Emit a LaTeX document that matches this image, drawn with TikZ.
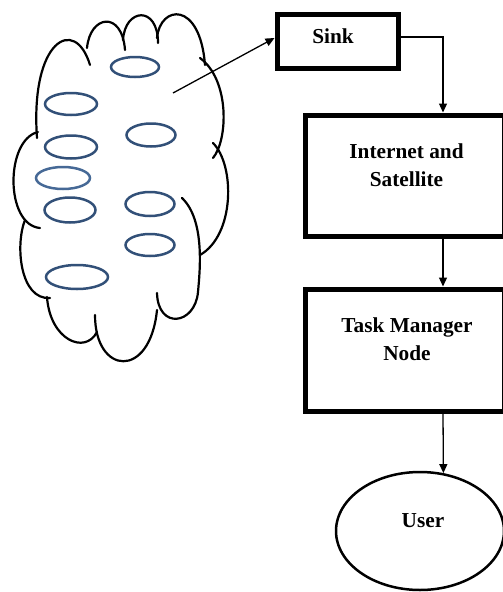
\documentclass[tikz,border=0pt]{standalone}
\usepackage{fontspec}
\setmainfont{Liberation Serif}
\usetikzlibrary{arrows.meta,shapes.geometric}
\definecolor{sensorblue}{RGB}{50,80,120}
\definecolor{sensorlight}{RGB}{70,105,150}
\tikzset{
  boxframe/.style={draw=black,line width=5pt,rectangle,inner sep=0pt},
  label/.style={font=\bfseries\fontsize{21.3}{28}\selectfont,align=center,inner sep=0pt},
  flow/.style={draw=black,line width=1.3pt,-{Triangle[length=9pt,width=8pt]}},
  cloudline/.style={draw=black,line width=2.2pt,line cap=round},
  sensor/.style={draw=sensorblue,line width=2.5pt},
}
\begin{document}
\begin{tikzpicture}[x=1pt,y=-1pt]
\useasboundingbox (0,0) rectangle (503,592);

% cloud outline
\draw[cloudline] (37,138) .. controls (30,40) and (75,15) .. (90,65);
\draw[cloudline] (87,48) .. controls (90,15) and (122,10) .. (125,50);
\draw[cloudline] (123,40) .. controls (125,8) and (158,5) .. (158,43);
\draw[cloudline] (157,38) .. controls (160,5) and (200,0) .. (205,65);
\draw[cloudline] (200,58) .. controls (230,80) and (228,140) .. (213,158);
\draw[cloudline] (213,143) .. controls (235,165) and (235,235) .. (200,255);
\draw[cloudline] (182,198) .. controls (205,220) and (200,270) .. (198,292) .. controls (195,325) and (158,330) .. (157,293);
\draw[cloudline] (157,310) .. controls (150,380) and (95,375) .. (95,315);
\draw[cloudline] (97,332) .. controls (85,355) and (50,340) .. (47,297);
\draw[cloudline] (38,132) .. controls (5,140) and (5,225) .. (40,228);
\draw[cloudline] (25,220) .. controls (15,245) and (20,300) .. (50,298);

% sensor nodes
\draw[sensor] (135,67) ellipse [x radius=24, y radius=10];
\draw[sensor] (71,104) ellipse [x radius=26, y radius=11];
\draw[sensor] (151,135) ellipse [x radius=24.5, y radius=11.5];
\draw[sensor] (71,147) ellipse [x radius=26, y radius=11.5];
\draw[sensor,draw=sensorlight] (63,178) ellipse [x radius=27, y radius=11];
\draw[sensor] (70,210) ellipse [x radius=25.5, y radius=12.5];
\draw[sensor] (150,204) ellipse [x radius=24.5, y radius=12];
\draw[sensor] (150,245) ellipse [x radius=24.5, y radius=11];
\draw[sensor] (77,277) ellipse [x radius=31, y radius=12];

% boxes
\node[boxframe,minimum width=121pt,minimum height=54pt] (sink) at (337.5,41) {};
\node[boxframe,minimum width=199pt,minimum height=121pt] (internet) at (404.5,175.5) {};
\node[boxframe,minimum width=199pt,minimum height=122pt] (task) at (404.5,350) {};
\node[ellipse,draw=black,line width=2.5pt,minimum width=168pt,minimum height=118pt,inner sep=0pt] (user) at (420,531) {};

% labels
\node[label,anchor=base] (sinktxt) at (333,43.5) {Sink};
\node[label] (internettxt) at (406.5,165.5) {Internet and\\Satellite};
\node[label] (tasktxt) at (407,339) {Task Manager\\Node};
\node[label,anchor=base] (usertxt) at (423,527.3) {User};

% connectors
\coordinate (col) at (443,0);
\coordinate (cloudpt) at (173,93);
\draw[flow] (cloudpt) -- ([yshift=3pt]sink.west);
\draw[flow] ([yshift=4pt]sink.east) -| (col |- internet.north);
\draw[flow] (col |- internet.south) -- (col |- task.north);
\draw[flow] (col |- task.south) -- (user.68);
\end{tikzpicture}
\end{document}
